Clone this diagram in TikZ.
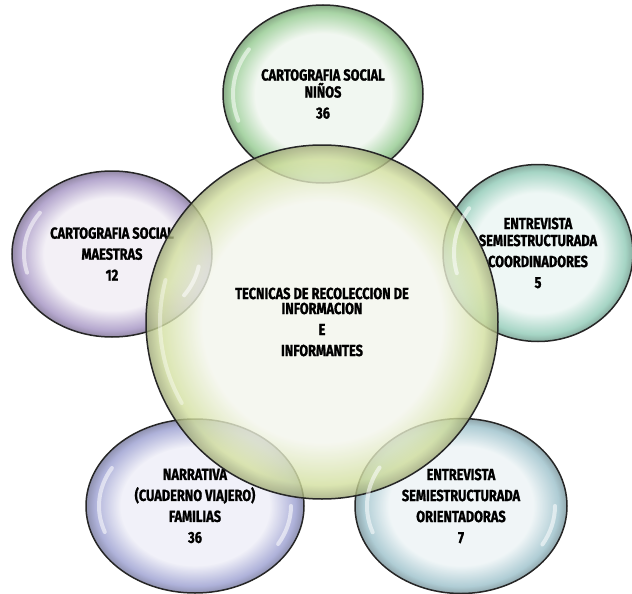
\documentclass[tikz,border=0pt]{standalone}
\usepackage{fontspec}
\usepackage{xcolor}
\usepackage{tikz}
\usetikzlibrary{shapes.geometric}
\newfontfamily\bubblefont[FakeStretch=0.8,FakeBold=1.2]{Fira Sans}
\definecolor{bubin}{HTML}{F2F4EC}
\definecolor{bubout}{HTML}{CCDB9C}
\definecolor{greenin}{HTML}{EEF5ED}  \definecolor{greenout}{HTML}{93CA8F}
\definecolor{violetin}{HTML}{F0ECF4} \definecolor{violetout}{HTML}{A392C2}
\definecolor{tealin}{HTML}{EAF5F2}   \definecolor{tealout}{HTML}{8FCAB6}
\definecolor{bluein}{HTML}{EEEEF7}   \definecolor{blueout}{HTML}{9A9ED0}
\definecolor{cyanin}{HTML}{ECF3F5}   \definecolor{cyanout}{HTML}{9BC0CA}
\definecolor{limein}{HTML}{F3F5EC}   \definecolor{limeout}{HTML}{D2DF9E}
\pgfdeclareradialshading[bubin,bubout]{bubshade}{\pgfpoint{0bp}{0bp}}{color(0bp)=(bubin); color(17bp)=(bubin); color(23bp)=(bubout); color(25bp)=(bubout!75!black); color(50bp)=(bubout!75!black)}

\begin{document}
\begin{tikzpicture}[x=1pt,y=-1pt,
  bubble/.style n args={4}{ellipse, draw=black!85, line width=1.5pt,
    minimum width=#3, minimum height=#4, inner sep=0pt, align=center,
    /utils/exec={\colorlet{bubin}{#1}\colorlet{bubout}{#2}}, shading=bubshade,
    fill opacity=0.8, text opacity=1,
    font=\bubblefont\bfseries\fontsize{16}{21}\selectfont},
  gloss/.style={white, line width=4pt, line cap=round, opacity=0.55}]
\useasboundingbox (0,0) rectangle (632,594);
% satellites
\node[bubble={greenin}{greenout}{200}{178}] (ninos) at (323,94) {CARTOGRAFIA SOCIAL\\[-4pt]NIÑOS\\36};
\node[bubble={violetin}{violetout}{200}{166}] (maestras) at (112,254) {CARTOGRAFIA SOCIAL\\MAESTRAS\\12};
\node[bubble={tealin}{tealout}{190}{177}] (coordinadores) at (538,253) {ENTREVISTA\\[-4pt]SEMIESTRUCTURADA\\COORDINADORES\\5};
\node[bubble={bluein}{blueout}{218}{174}] (familias) at (195,506) {NARRATIVA\\(CUADERNO VIAJERO)\\FAMILIAS\\36};
\node[bubble={cyanin}{cyanout}{212}{175}] (orientadoras) at (461,506) {ENTREVISTA\\SEMIESTRUCTURADA\\ORIENTADORAS\\7};
% centre
\node[bubble={limein}{limeout}{352}{354}] (tecnicas) at (322,322) {TECNICAS DE RECOLECCION DE\\[-6pt]INFORMACION\\E\\INFORMANTES};
% highlights
\draw[gloss] (321,94) ++(160:88 and 78) arc[start angle=160, end angle=215, x radius=88, y radius=78];
\draw[gloss] (112,254) ++(165:88 and 72) arc[start angle=165, end angle=215, x radius=88, y radius=72];
\draw[gloss] (112,254) ++(10:88 and 72) arc[start angle=10, end angle=35, x radius=88, y radius=72];
\draw[gloss] (538,253) ++(165:84 and 78) arc[start angle=165, end angle=215, x radius=84, y radius=78];
\draw[gloss] (195,506) ++(160:96 and 76) arc[start angle=160, end angle=210, x radius=96, y radius=76];
\draw[gloss] (195,506) ++(0:96 and 76) arc[start angle=0, end angle=30, x radius=96, y radius=76];
\draw[gloss] (461,506) ++(160:94 and 77) arc[start angle=160, end angle=210, x radius=94, y radius=77];
\draw[gloss] (461,506) ++(0:94 and 77) arc[start angle=0, end angle=30, x radius=94, y radius=77];
\draw[gloss, opacity=0.4] (322,322) ++(150:162 and 162) arc[start angle=150, end angle=195, x radius=162, y radius=162];
\end{tikzpicture}
\end{document}
